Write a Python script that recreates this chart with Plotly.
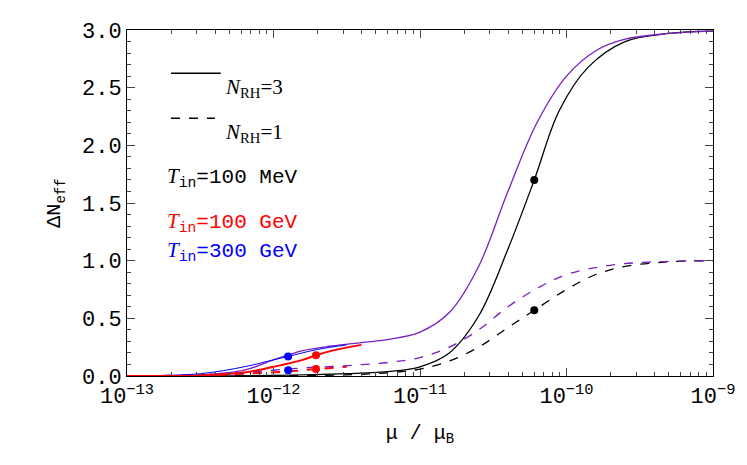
import plotly.graph_objects as go
import numpy as np

# log10(mu/mu_B) sample points
lx_purple = [-13, -12.5, -12.2, -12.0, -11.8, -11.6, -11.4, -11.2, -11.0, -10.8, -10.6, -10.4, -10.2, -10.0, -9.8, -9.6, -9.3, -9.0]
y_purple = [0.0, 0.01, 0.05, 0.14, 0.22, 0.26, 0.29, 0.32, 0.38, 0.55, 0.95, 1.6, 2.2, 2.6, 2.82, 2.92, 2.97, 2.99]
lx_red_lo = [-13, -12.5, -12.2, -12.0, -11.8, -11.71, -11.6, -11.4]
y_red_lo = [0.0, 0.005, 0.03, 0.08, 0.14, 0.18, 0.22, 0.27]
lx_blue_lo = [-13, -12.5, -12.2, -12.0, -11.9, -11.7, -11.5]
y_blue_lo = [0.0, 0.02, 0.08, 0.14, 0.17, 0.23, 0.27]
lx_black = [-13, -12.0, -11.5, -11.2, -11.0, -10.8, -10.6, -10.4, -10.22, -10.05, -9.85, -9.6, -9.3, -9.0]
y_black = [0.0, 0.005, 0.02, 0.04, 0.08, 0.2, 0.52, 1.1, 1.7, 2.3, 2.68, 2.9, 2.97, 2.99]
lx_pdash = [-13, -12.5, -12.2, -12.0, -11.8, -11.5, -11.2, -11.0, -10.8, -10.6, -10.4, -10.2, -10.0, -9.7, -9.4, -9.0]
y_pdash = [0.0, 0.01, 0.03, 0.05, 0.07, 0.09, 0.12, 0.16, 0.25, 0.4, 0.6, 0.76, 0.88, 0.96, 0.99, 1.0]
lx_rdash_lo = [-13, -12.5, -12.2, -11.9, -11.71, -11.5]
y_rdash_lo = [0.0, 0.005, 0.02, 0.04, 0.06, 0.08]
lx_bdash = [-13, -12.0, -11.5, -11.2, -11.0, -10.8, -10.6, -10.4, -10.22, -10.0, -9.8, -9.6, -9.3, -9.0]
y_bdash = [0.0, 0.003, 0.01, 0.03, 0.06, 0.13, 0.25, 0.42, 0.57, 0.75, 0.88, 0.95, 0.99, 1.0]

pts_x = [10**-11.9, 10**-11.71, 10**-11.9, 10**-11.71, 10**-10.22, 10**-10.22]
pts_y = [0.17, 0.18, 0.05, 0.06, 1.7, 0.57]
pts_c = ["blue", "red", "blue", "red", "black", "black"]

purple = "#7a1fc0"
fig = go.Figure()
def add(lx, y, color, dash="solid", w=1.3):
    fig.add_trace(go.Scatter(x=10**np.array(lx), y=y, mode="lines", line=dict(color=color, dash=dash, width=w, shape="spline")))

add(lx_bdash, y_bdash, "black", "dash")
add(lx_black, y_black, "black")
add(lx_rdash_lo, y_rdash_lo, "red", "dash", 2)
add(lx_pdash, y_pdash, purple, "dash")
add(lx_purple, y_purple, purple)
add(lx_blue_lo, y_blue_lo, "blue", w=1)
add(lx_red_lo, y_red_lo, "red", w=2)
fig.add_trace(go.Scatter(x=pts_x, y=pts_y, mode="markers", marker=dict(color=pts_c, size=8)))

mono = "Liberation Mono"
serif = "Liberation Serif"
ann = [
    (0.163, 0.875, f"<span style='font-family:{serif}'><i>N</i><sub>RH</sub>=3</span>", "black"),
    (0.163, 0.745, f"<span style='font-family:{serif}'><i>N</i><sub>RH</sub>=1</span>", "black"),
    (0.065, 0.575, f"<span style='font-family:{serif}'><i>T</i></span><sub>in</sub>=100 MeV", "black"),
    (0.065, 0.445, f"<span style='font-family:{serif}'><i>T</i></span><sub>in</sub>=100 GeV", "red"),
    (0.065, 0.315, f"<span style='font-family:{serif}'><i>T</i></span><sub>in</sub>=300 GeV", "blue"),
]
for x, y, t, c in ann:
    fig.add_annotation(x=x, y=y, xref="paper", yref="paper", text=t, showarrow=False,
                       xanchor="left", font=dict(family=mono, size=21, color=c))
# legend line samples
fig.add_shape(type="line", xref="paper", yref="paper", x0=0.075, x1=0.16, y0=0.875, y1=0.875, line=dict(color="black", width=1.3))
fig.add_shape(type="line", xref="paper", yref="paper", x0=0.075, x1=0.15, y0=0.745, y1=0.745, line=dict(color="black", width=1.3, dash="dash"))

tv = [1e-13, 1e-12, 1e-11, 1e-10, 1e-9]
tt = ["10<sup>−13</sup>", "10<sup>−12</sup>", "10<sup>−11</sup>", "10<sup>−10</sup>", "10<sup>−9</sup>"]
minor_x = [m * 10.0**e for e in range(-13, -9) for m in range(2, 10)]
fig.update_layout(
    width=747, height=465, showlegend=False, plot_bgcolor="white", paper_bgcolor="white",
    margin=dict(l=119, r=42, t=18, b=97),
    font=dict(family=mono, size=22, color="black"),
    xaxis=dict(type="log", range=[-13, -9], tickvals=tv, ticktext=tt, showgrid=False, mirror="ticks",
               showline=True, linecolor="black", ticks="inside", ticklen=8,
               minor=dict(ticks="inside", ticklen=4, tickvals=minor_x, showgrid=False),
               title=dict(text="μ / μ<sub>B</sub>", font=dict(size=20))),
    yaxis=dict(range=[0, 3], dtick=0.5, tickformat=".1f", showgrid=False, mirror="ticks", showline=True,
               linecolor="black", ticks="inside", ticklen=8, zeroline=False,
               minor=dict(ticks="inside", ticklen=4, dtick=0.1),
               title=dict(text="ΔN<sub>eff</sub>", font=dict(size=20))),
)
fig.write_html("out.html")
